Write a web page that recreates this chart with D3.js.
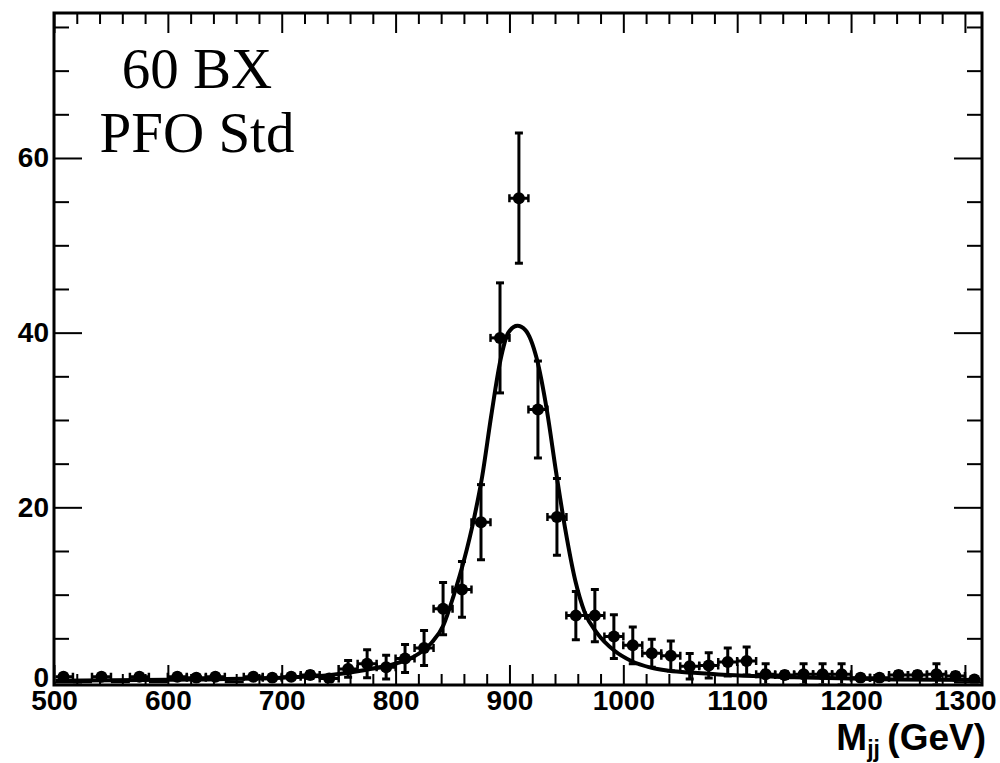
<!DOCTYPE html>
<html>
<head>
<meta charset="utf-8">
<script src="https://cdn.jsdelivr.net/npm/d3@7"></script>
<style>
  html, body { margin: 0; padding: 0; background: #fff; }
  svg { display: block; }
</style>
</head>
<body>
<svg id="chart" width="1000" height="763"></svg>
<script>
// ---------------- DATA ----------------
const binCenters = [508.3, 525.0, 541.7, 558.3, 575.0, 591.7, 608.3, 625.0, 641.7, 658.3,
  675.0, 691.7, 708.3, 725.0, 741.7, 758.3, 775.0, 791.7, 808.3, 825.0,
  841.7, 858.3, 875.0, 891.7, 908.3, 925.0, 941.7, 958.3, 975.0, 991.7,
  1008.3, 1025.0, 1041.7, 1058.3, 1075.0, 1091.7, 1108.3, 1125.0, 1141.7, 1158.3,
  1175.0, 1191.7, 1208.3, 1225.0, 1241.7, 1258.3, 1275.0, 1291.7, 1308.3];
const binHalfWidth = 8.33;
const counts = [0.6, 0, 0.6, 0, 0.6, 0, 0.6, 0.5, 0.6, 0,
  0.6, 0.5, 0.6, 0.8, 0.4, 1.5, 2.1, 1.7, 2.7, 3.9,
  8.4, 10.6, 18.3, 39.4, 55.4, 31.2, 18.9, 7.6, 7.6, 5.2,
  4.2, 3.3, 3.0, 1.8, 1.9, 2.3, 2.4, 0.9, 0.8, 0.9,
  0.9, 0.9, 0.5, 0.5, 0.8, 0.8, 0.9, 0.7, 0.3];
const errors = [0.3, 0, 0.3, 0, 0.3, 0, 0.3, 0.3, 0.3, 0,
  0.3, 0.3, 0.3, 0.4, 0.3, 0.95, 1.6, 1.35, 1.6, 2.0,
  3.0, 3.2, 4.3, 6.3, 7.45, 5.55, 4.4, 2.75, 3.0, 2.5,
  2.1, 1.6, 1.7, 1.45, 1.45, 1.6, 1.6, 1.2, 0.4, 1.2,
  1.2, 1.2, 0.3, 0.3, 0.4, 0.4, 1.2, 0.4, 0.2];

// fit curve samples
const fitMass = [500, 600, 700, 743, 772, 801, 816, 831, 842, 851, 860, 869, 876, 884, 892, 899, 907,
  914, 924, 933, 941, 949, 958, 966, 977, 992, 1007, 1024, 1040, 1062, 1092, 1150, 1238, 1315];
const fitValue = [0.15, 0.25, 0.5, 0.8, 1.35, 2.15, 2.9, 4.4, 6.5, 9.9, 13.9, 18.8, 23.5, 30.5, 36.8, 40.0, 40.8,
  40.3, 37.0, 31.0, 24.0, 17.5, 11.5, 8.0, 5.6, 3.6, 2.4, 1.65, 1.3, 1.05, 0.8, 0.54, 0.3, 0.22];

const xMajorTicks = [500, 600, 700, 800, 900, 1000, 1100, 1200, 1300];
const yMajorTicks = [0, 20, 40, 60];
const textLines = ["60 BX", "PFO Std"];

// ---------------- LAYOUT ----------------
const svg = d3.select("#chart");
const L = 54, T = 13, R = 982, B = 685;
const x = d3.scaleLinear().domain([500, 1315]).range([L, R]);
const y = d3.scaleLinear().domain([0, 76.6]).range([682, T]);

const xMinor = d3.range(500, 1315, 20).filter(v => v % 100 !== 0);
const yMinor = d3.range(0, 77, 5).filter(v => v % 20 !== 0);

const tickFont = "'Liberation Sans', Arial, Helvetica, sans-serif";

function styleAxis(g) {
  g.select(".domain").remove();
  g.selectAll(".tick line").attr("stroke", "#000").attr("stroke-width", 2);
  g.selectAll(".tick text").attr("fill", "#000")
    .style("font-family", tickFont).style("font-weight", "bold").style("font-size", "28px");
}

// bottom axis
svg.append("g").attr("transform", `translate(0,${B})`)
  .call(d3.axisBottom(x).tickValues(xMajorTicks).tickSizeInner(-20).tickSizeOuter(0).tickPadding(5).tickFormat(d3.format("d")))
  .call(styleAxis);
svg.append("g").attr("transform", `translate(0,${B})`)
  .call(d3.axisBottom(x).tickValues(xMinor).tickSizeInner(-11).tickSizeOuter(0).tickFormat(""))
  .call(styleAxis);
// top axis
svg.append("g").attr("transform", `translate(0,${T})`)
  .call(d3.axisTop(x).tickValues(xMajorTicks).tickSizeInner(-20).tickSizeOuter(0).tickFormat(""))
  .call(styleAxis);
svg.append("g").attr("transform", `translate(0,${T})`)
  .call(d3.axisTop(x).tickValues(xMinor).tickSizeInner(-11).tickSizeOuter(0).tickFormat(""))
  .call(styleAxis);
// left axis
const yAxisG = svg.append("g").attr("transform", `translate(${L},0)`)
  .call(d3.axisLeft(y).tickValues(yMajorTicks).tickSizeInner(-28).tickSizeOuter(0).tickPadding(5).tickFormat(d3.format("d")))
  .call(styleAxis);
yAxisG.selectAll(".tick text").filter(d => d === 0).attr("dy", "0.15em");
svg.append("g").attr("transform", `translate(${L},0)`)
  .call(d3.axisLeft(y).tickValues(yMinor).tickSizeInner(-15).tickSizeOuter(0).tickFormat(""))
  .call(styleAxis);
// right axis
svg.append("g").attr("transform", `translate(${R},0)`)
  .call(d3.axisRight(y).tickValues(yMajorTicks).tickSizeInner(-28).tickSizeOuter(0).tickFormat(""))
  .call(styleAxis);
svg.append("g").attr("transform", `translate(${R},0)`)
  .call(d3.axisRight(y).tickValues(yMinor).tickSizeInner(-15).tickSizeOuter(0).tickFormat(""))
  .call(styleAxis);

// frame
svg.append("rect").attr("x", L).attr("y", T).attr("width", R - L).attr("height", B - T)
  .attr("fill", "none").attr("stroke", "#000").attr("stroke-width", 3);

// clip
svg.append("clipPath").attr("id", "plotclip").append("rect")
  .attr("x", L + 1.5).attr("y", T + 1.5).attr("width", R - L - 3).attr("height", B - T - 3);
const plot = svg.append("g").attr("clip-path", "url(#plotclip)");

const pts = binCenters.map((c, i) => ({ c, v: counts[i], e: errors[i] }));

// horizontal error bars
plot.selectAll(".hbar").data(pts).enter().append("line")
  .attr("x1", d => x(d.c - binHalfWidth)).attr("x2", d => x(d.c + binHalfWidth))
  .attr("y1", d => y(d.v)).attr("y2", d => y(d.v))
  .attr("stroke", "#000").attr("stroke-width", 3);
// horizontal bar end ticks
const hEnds = [];
pts.forEach(d => { if (d.v > 0) { hEnds.push({ xv: d.c - binHalfWidth, v: d.v }); hEnds.push({ xv: d.c + binHalfWidth, v: d.v }); } });
plot.selectAll(".hend").data(hEnds).enter().append("line")
  .attr("x1", d => x(d.xv)).attr("x2", d => x(d.xv))
  .attr("y1", d => y(d.v) - 4).attr("y2", d => y(d.v) + 4)
  .attr("stroke", "#000").attr("stroke-width", 2.5);

const withErr = pts.filter(d => d.e > 0);
// vertical error bars
plot.selectAll(".vbar").data(withErr).enter().append("line")
  .attr("x1", d => x(d.c)).attr("x2", d => x(d.c))
  .attr("y1", d => y(d.v - d.e)).attr("y2", d => y(d.v + d.e))
  .attr("stroke", "#000").attr("stroke-width", 3);
const caps = [];
withErr.forEach(d => { caps.push({ c: d.c, v: d.v + d.e }); caps.push({ c: d.c, v: d.v - d.e }); });
plot.selectAll(".cap").data(caps).enter().append("line")
  .attr("x1", d => x(d.c) - 4).attr("x2", d => x(d.c) + 4)
  .attr("y1", d => y(d.v)).attr("y2", d => y(d.v))
  .attr("stroke", "#000").attr("stroke-width", 3);

// markers
plot.selectAll(".mk").data(pts.filter(d => d.v > 0)).enter().append("circle")
  .attr("cx", d => x(d.c)).attr("cy", d => y(d.v)).attr("r", 6).attr("fill", "#000");

// fit curve
const fitPts = fitMass.map((m, i) => [m, fitValue[i]]);
plot.append("path").datum(fitPts)
  .attr("d", d3.line().x(d => x(d[0])).y(d => y(d[1])).curve(d3.curveMonotoneX))
  .attr("fill", "none").attr("stroke", "#000").attr("stroke-width", 4);

// text box
svg.selectAll(".lbl").data(textLines).enter().append("text")
  .attr("x", 197).attr("y", (d, i) => 88 + i * 64)
  .attr("text-anchor", "middle")
  .style("font-family", "'Liberation Serif', 'Times New Roman', serif")
  .style("font-size", "57px").attr("fill", "#000")
  .text(d => d);

// x title
const xt = svg.append("text").attr("x", 986).attr("y", 750).attr("text-anchor", "end")
  .style("font-family", tickFont).style("font-weight", "bold").style("font-size", "37px").attr("fill", "#000");
xt.append("tspan").text("M");
xt.append("tspan").attr("dy", 7).style("font-size", "23px").text("jj");
xt.append("tspan").attr("dy", -7).text("\u2009(GeV)");
</script>
</body>
</html>
